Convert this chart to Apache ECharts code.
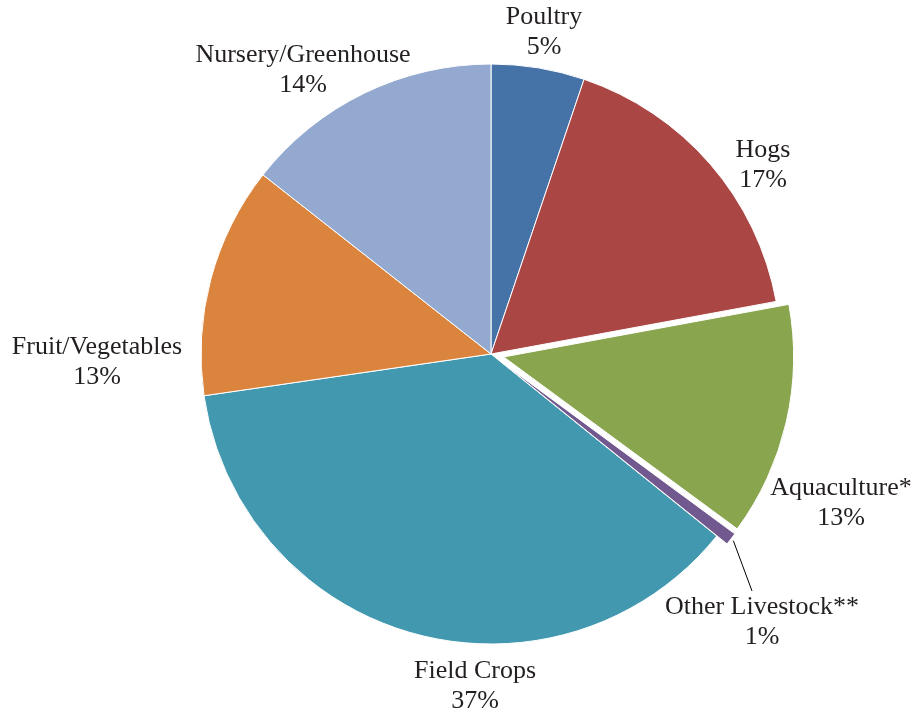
<!DOCTYPE html>
<html>
<head>
<meta charset="utf-8">
<script src="https://cdn.jsdelivr.net/npm/echarts@6/dist/echarts.min.js"></script>
<style>
html,body{margin:0;padding:0;background:#fff;}
#chart{width:914px;height:719px;}
</style>
</head>
<body>
<div id="chart"></div>
<script>
// ---- data ----
const categories = ['Poultry', 'Hogs', 'Aquaculture*', 'Other Livestock**', 'Field Crops', 'Fruit/Vegetables', 'Nursery/Greenhouse'];
const shares = [5.2, 16.9, 13.0, 0.7, 36.9, 12.9, 14.4];
const sliceColors = ['#4572a7', '#aa4643', '#89a54e', '#71588f', '#4198af', '#db843d', '#93a9cf'];
const explodedSlices = ['Aquaculture*', 'Other Livestock**'];
const leaderLabel = 'Other Livestock**';

// ---- layout ----
const explodeOffset = 13;
const labelAnchors = {
  'Poultry': [544, 32],
  'Hogs': [763, 165],
  'Aquaculture*': [841, 503],
  'Other Livestock**': [762, 622],
  'Field Crops': [475, 686],
  'Fruit/Vegetables': [97, 362],
  'Nursery/Greenhouse': [303, 70]
};

const chart = echarts.init(document.getElementById('chart'));
const center = [491, 354];
const radius = 290;
const font = { fontFamily: '"Liberation Serif", "DejaVu Serif", serif', fontSize: 26, lineHeight: 30, color: '#231f20' };
const clear = { color: 'rgba(0,0,0,0)', borderWidth: 0 };

const mainData = categories.map((c, i) => {
  const item = { name: c, value: shares[i], itemStyle: explodedSlices.includes(c) ? clear : { color: sliceColors[i] } };
  if (c === leaderLabel) item.labelLine = { show: true };
  return item;
});

const explodedData = categories.map((c, i) => ({
  name: c, value: shares[i],
  selected: explodedSlices.includes(c),
  itemStyle: explodedSlices.includes(c) ? { color: sliceColors[i], borderColor: '#fff', borderWidth: 1 } : clear
}));

chart.setOption({
  animation: false,
  backgroundColor: '#fff',
  series: [
    {
      type: 'pie',
      center: center,
      radius: radius,
      startAngle: 90,
      clockwise: true,
      emphasis: { disabled: true },
      itemStyle: { borderColor: '#fff', borderWidth: 1 },
      label: Object.assign({
        show: true,
        position: 'outside',
        align: 'center',
        overflow: 'none',
        formatter: p => p.name + '\n' + Math.round(p.percent) + '%'
      }, font),
      labelLine: { show: false, lineStyle: { color: '#000', width: 1 } },
      labelLayout: function (params) {
        const name = categories[params.dataIndex];
        const a = labelAnchors[name];
        const res = { x: a[0], y: a[1], align: 'center', verticalAlign: 'middle' };
        if (name === leaderLabel && params.labelLinePoints) {
          const e = params.labelLinePoints[0];
          const dx = e[0] - center[0], dy = e[1] - center[1];
          const len = Math.sqrt(dx * dx + dy * dy);
          const push = explodeOffset + 3;
          const p0 = [e[0] + dx / len * push, e[1] + dy / len * push];
          const end = [a[0] - 10, a[1] - params.labelRect.height / 2 - 1];
          res.labelLinePoints = [p0, [(p0[0] + end[0]) / 2, (p0[1] + end[1]) / 2], end];
        }
        return res;
      },
      data: mainData
    },
    {
      type: 'pie',
      center: center,
      radius: radius,
      startAngle: 90,
      clockwise: true,
      silent: true,
      selectedMode: 'multiple',
      selectedOffset: explodeOffset,
      emphasis: { disabled: true },
      label: { show: false },
      labelLine: { show: false },
      data: explodedData
    }
  ]
});
</script>
</body>
</html>
